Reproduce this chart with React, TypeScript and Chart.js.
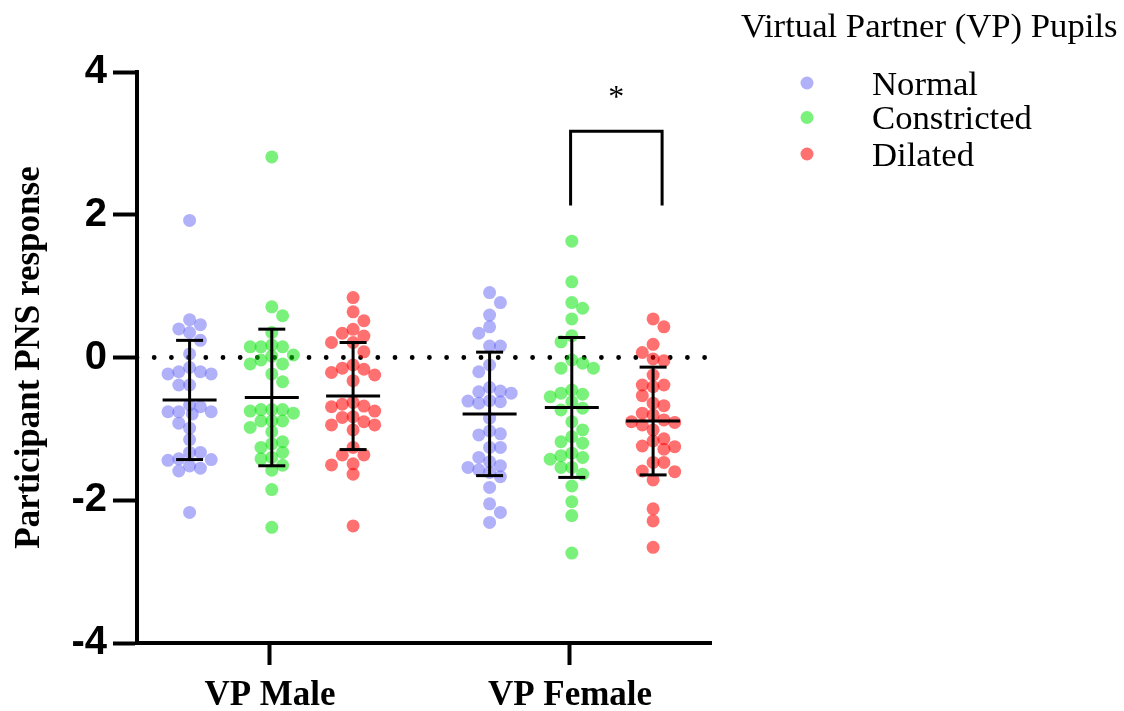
import React, { useEffect, useRef } from "react";
import { Chart, registerables } from "chart.js";

Chart.register(...registerables);

// ---------- data ----------
const categories = ["VP Male", "VP Female"];
const seriesNames = ["Normal", "Constricted", "Dilated"];
const seriesColors = ["rgba(100,100,245,0.5)", "rgba(0,228,0,0.52)", "rgba(255,0,0,0.56)"];

const maleNormal = [1.92, 0.53, 0.46, 0.4, 0.35, 0.24, 0.05, -0.14, -0.2, -0.23, -0.2, -0.23, -0.385, -0.385, -0.665, -0.76, -0.79, -0.69, -0.76, -0.76, -0.92, -0.99, -1.15, -1.33, -1.33, -1.43, -1.44, -1.42, -1.55, -1.52, -1.59, -2.17];
const maleConstricted = [2.81, 0.71, 0.585, 0.35, 0.175, 0.15, 0.15, 0.15, 0.035, 0.02, -0.035, -0.09, -0.09, -0.23, -0.34, -0.73, -0.73, -0.73, -0.78, -0.75, -0.89, -0.89, -0.89, -1.04, -0.98, -1.21, -1.26, -1.18, -1.42, -1.33, -1.4, -1.58, -1.51, -1.85, -2.38];
const maleDilated = [0.84, 0.64, 0.515, 0.3, 0.34, 0.395, 0.21, 0.21, 0.08, -0.105, -0.15, -0.21, -0.245, -0.165, -0.325, -0.68, -0.655, -0.75, -0.69, -0.63, -0.84, -0.945, -0.945, -0.9, -0.83, -1.015, -1.365, -1.365, -1.26, -1.505, -1.49, -1.635, -2.36];
const femaleNormal = [0.91, 0.77, 0.595, 0.43, 0.34, 0.16, 0.16, -0.105, -0.2, -0.48, -0.62, -0.61, -0.5, -0.47, -0.42, -0.64, -0.605, -0.85, -1.03, -1.085, -1.07, -1.26, -1.26, -1.4, -1.515, -1.54, -1.46, -1.61, -1.575, -1.67, -1.82, -2.05, -2.17, -2.31];
const femaleConstricted = [1.63, 1.06, 0.77, 0.69, 0.54, 0.305, 0.22, -0.035, -0.15, -0.15, -0.08, -0.55, -0.5, -0.515, -0.455, -0.62, -0.735, -0.71, -0.9, -1.015, -1.11, -1.2, -1.18, -1.375, -1.34, -1.4, -1.425, -1.54, -1.54, -1.635, -1.8, -2.02, -2.215, -2.74];
const femaleDilated = [0.54, 0.43, 0.185, 0.07, -0.045, -0.02, -0.245, -0.535, -0.41, -0.385, -0.385, -0.675, -0.64, -0.875, -0.945, -0.91, -0.9, -0.805, -0.78, -1.015, -1.14, -1.17, -1.25, -1.24, -1.285, -1.47, -1.47, -1.59, -1.6, -1.715, -2.12, -2.29, -2.66];

// mean and SD per series, [VP Male, VP Female]
const normalMeans = [-0.595, -0.79];
const normalSDs = [0.835, 0.865];
const constrictedMeans = [-0.56, -0.7];
const constrictedSDs = [0.957, 0.98];
const dilatedMeans = [-0.54, -0.89];
const dilatedSDs = [0.75, 0.755];

const yTicks = [-4, -2, 0, 2, 4];
const yAxisTitle = "Participant PNS response";
const legendTitle = "Virtual Partner (VP) Pupils";

// significance bracket (data units)
const bracketX = [2.002, 2.307];
const bracketY = [2.13, 3.17];
const bracketLabel = "*";

// ---------- layout constants ----------
const W = 1124;
const H = 711;
const X_MIN = 0.5567;
const X_MAX = 2.47;
const groupOffsets = [-0.268, 0.006, 0.277];
const X_PX_PER_UNIT = 300;
const Y_PX_PER_UNIT = 571 / 8;
const SWARM_STEP = 10.8;
const SWARM_MIN_DIST = 10;
const SWARM_HALF_WIDTH = 21.6;

const seriesValues = [
  [maleNormal, femaleNormal],
  [maleConstricted, femaleConstricted],
  [maleDilated, femaleDilated],
];
const seriesMeans = [normalMeans, constrictedMeans, dilatedMeans];
const seriesSDs = [normalSDs, constrictedSDs, dilatedSDs];

// Compact beeswarm: columns 0, ±1, ±2 steps; if all are taken, squeeze into the
// position (within the same width) that keeps the most room.
function swarm(values: number[], center: number) {
  const placed: { x: number; y: number }[] = [];
  const order = values.map((_, i) => i).sort((a, b) => values[b] - values[a]);
  const out: { x: number; y: number }[] = new Array(values.length);
  let flip = 1;
  const minDist = (xpx: number, ypx: number) =>
    placed.reduce((m, p) => Math.min(m, Math.hypot(p.x - xpx, p.y - ypx)), Infinity);
  for (const i of order) {
    const ypx = values[i] * Y_PX_PER_UNIT;
    const cands = [0, flip, -flip, 2 * flip, -2 * flip].map((c) => c * SWARM_STEP);
    let chosen: number | null = null;
    for (const c of cands) {
      if (minDist(c, ypx) >= SWARM_MIN_DIST) {
        chosen = c;
        break;
      }
    }
    if (chosen === null) {
      let best = 0;
      let bestD = -1;
      for (let xpx = -SWARM_HALF_WIDTH; xpx <= SWARM_HALF_WIDTH + 0.01; xpx += SWARM_STEP / 4) {
        const d = minDist(xpx, ypx);
        if (d > bestD + 0.01) {
          bestD = d;
          best = xpx;
        }
      }
      chosen = best;
    }
    if (chosen !== 0) flip = -flip;
    placed.push({ x: chosen, y: ypx });
    out[i] = { x: center + chosen / X_PX_PER_UNIT, y: values[i] };
  }
  return out;
}

const errorBarPlugin = {
  id: "errorBars",
  afterDatasetsDraw(chart: any) {
    const { ctx, scales } = chart;
    const x = scales.x;
    const y = scales.y;
    ctx.save();
    ctx.strokeStyle = "#000";
    ctx.lineWidth = 3;
    const seg = (x1: number, y1: number, x2: number, y2: number) => {
      ctx.beginPath();
      ctx.moveTo(x1, y1);
      ctx.lineTo(x2, y2);
      ctx.stroke();
    };
    seriesMeans.forEach((means, s) => {
      means.forEach((m, c) => {
        const cx = x.getPixelForValue(c + 1 + groupOffsets[s]);
        const sd = seriesSDs[s][c];
        const ym = y.getPixelForValue(m);
        const yt = y.getPixelForValue(m + sd);
        const yb = y.getPixelForValue(m - sd);
        seg(cx, yt, cx, yb);
        seg(cx - 27, ym, cx + 27, ym);
        seg(cx - 13.5, yt, cx + 13.5, yt);
        seg(cx - 13.5, yb, cx + 13.5, yb);
      });
    });
    // significance bracket
    const bx1 = x.getPixelForValue(bracketX[0]);
    const bx2 = x.getPixelForValue(bracketX[1]);
    const byLow = y.getPixelForValue(bracketY[0]);
    const byHigh = y.getPixelForValue(bracketY[1]);
    ctx.beginPath();
    ctx.moveTo(bx1, byLow);
    ctx.lineTo(bx1, byHigh);
    ctx.lineTo(bx2, byHigh);
    ctx.lineTo(bx2, byLow);
    ctx.stroke();
    ctx.fillStyle = "#000";
    ctx.font = '32px "Liberation Serif"';
    ctx.textAlign = "center";
    ctx.textBaseline = "alphabetic";
    ctx.fillText(bracketLabel, (bx1 + bx2) / 2, byHigh - 24);
    ctx.restore();
  },
};

const legendPlugin = {
  id: "customLegend",
  afterDraw(chart: any) {
    const { ctx } = chart;
    ctx.save();
    ctx.fillStyle = "#000";
    ctx.font = '34.7px "Liberation Serif"';
    ctx.textAlign = "left";
    ctx.textBaseline = "alphabetic";
    ctx.fillText(legendTitle, 741, 37);
    const rowY = [83, 117.5, 154];
    seriesNames.forEach((name, i) => {
      ctx.beginPath();
      ctx.fillStyle = seriesColors[i];
      ctx.arc(807, rowY[i], 6.5, 0, Math.PI * 2);
      ctx.fill();
      ctx.fillStyle = "#000";
      ctx.fillText(name, 872, rowY[i] + 11.5);
    });
    ctx.restore();
  },
};

export default function App() {
  const ref = useRef<HTMLCanvasElement | null>(null);

  useEffect(() => {
    if (!ref.current) return;
    const pointSets = seriesValues.map((groups, s) =>
      groups.flatMap((vals, c) => swarm(vals, c + 1 + groupOffsets[s]))
    );
    const datasets: any[] = seriesNames.map((name, s) => ({
      type: "scatter",
      label: name,
      data: pointSets[s],
      backgroundColor: seriesColors[s],
      borderWidth: 0,
      pointRadius: 6.5,
      pointHoverRadius: 6.5,
      order: 1,
    }));
    datasets.push({
      type: "line",
      label: "zero",
      data: [
        { x: X_MIN, y: 0 },
        { x: X_MAX, y: 0 },
      ],
      borderColor: "#000",
      borderWidth: 4.8,
      borderDash: [0, 17.2],
      borderCapStyle: "round",
      pointRadius: 0,
      fill: false,
      order: 10,
    });

    const chart = new Chart(ref.current, {
      type: "scatter",
      data: { datasets },
      options: {
        animation: false,
        responsive: false,
        devicePixelRatio: 1,
        layout: { padding: { left: 0, right: W - 711, top: 72, bottom: 0 } },
        plugins: { legend: { display: false }, tooltip: { enabled: false } },
        scales: {
          x: {
            type: "linear",
            min: X_MIN,
            max: X_MAX,
            afterBuildTicks: (s: any) => {
              s.ticks = categories.map((_, i) => ({ value: i + 1 }));
            },
            afterFit: (s: any) => {
              s.height = 68;
            },
            ticks: {
              autoSkip: false,
              maxRotation: 0,
              color: "#000",
              padding: 10,
              font: { family: "Liberation Serif", size: 35, weight: "bold" },
              callback: (v: any) => categories[Math.round(Number(v)) - 1] ?? "",
            },
            grid: { drawOnChartArea: false, tickLength: 22, tickWidth: 4, tickColor: "#000", color: "#000" },
            border: { display: true, color: "#000", width: 4 },
          },
          y: {
            type: "linear",
            min: -4,
            max: 4,
            afterBuildTicks: (s: any) => {
              s.ticks = yTicks.map((v) => ({ value: v }));
            },
            afterFit: (s: any) => {
              s.width = 137;
            },
            ticks: {
              color: "#000",
              padding: 6,
              font: { family: "Liberation Sans", size: 40, weight: "bold" },
            },
            grid: { drawOnChartArea: false, tickLength: 24, tickWidth: 4, tickColor: "#000", color: "#000" },
            border: { display: true, color: "#000", width: 4 },
            title: {
              display: true,
              text: yAxisTitle,
              color: "#000",
              font: { family: "Liberation Serif", size: 35, weight: "bold", lineHeight: 1 },
              padding: { top: 12, bottom: 0 },
            },
          },
        },
      } as any,
      plugins: [errorBarPlugin, legendPlugin],
    });
    return () => chart.destroy();
  }, []);

  return (
    <div style={{ position: "fixed", left: 0, top: 0, width: W, height: H, background: "#fff" }}>
      <canvas ref={ref} width={W} height={H} style={{ width: W, height: H, display: "block" }} />
    </div>
  );
}
